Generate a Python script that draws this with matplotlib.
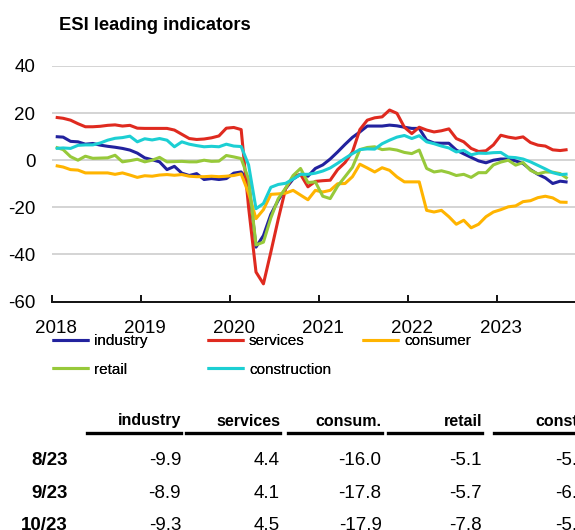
import numpy as np
import matplotlib
matplotlib.use("Agg")
import matplotlib.pyplot as plt
from matplotlib.lines import Line2D

plt.rcParams['font.family'] = ['Liberation Sans', 'DejaVu Sans']
plt.rcParams['axes.unicode_minus'] = False

# ---------------- data (monthly, Jan 2018 - Oct 2023) ----------------
years = ['2018', '2019', '2020', '2021', '2022', '2023']

industry = [10, 9.8, 8, 7.8, 6.8, 7.1, 6.4, 5.9, 5.5, 5, 4.3, 3,
            1, 0.2, -0.7, -4, -2.6, -5.5, -6.5, -5.7, -8.2, -7.8, -8.2, -7.8,
            -5.5, -5, -9, -36.9, -32, -23, -17, -12, -8, -6, -6.8, -3.5,
            -2, 0.5, 3.5, 6.7, 9.7, 12, 14.5, 14.5, 14.5, 14.9, 14.6, 14,
            13.5, 13.5, 8.5, 7.3, 7.2, 7.2, 4.3, 2.7, 1.2, -0.3, -1.1, 0,
            0.5, 0.5, -0.3, -1.4, -4, -6, -7.5, -9.9, -8.9, -9.3]

services = [18.2, 17.8, 17, 15.5, 14.2, 14.2, 14.4, 14.8, 15, 14.5, 14.8, 13.6,
            13.5, 13.5, 13.5, 13.5, 12.8, 11, 9.2, 8.8, 9, 9.5, 10.3, 13.6,
            13.9, 13, -20, -47.5, -52.5, -39, -25, -12, -7, -6, -11.3, -9,
            -8.7, -8.5, -4, -1, 3.5, 13, 17, 18, 18.4, 21.3, 19.9, 14,
            11.3, 14, 12.8, 12, 12.5, 13.3, 9.2, 7.8, 5, 3.7, 4, 6.5,
            10.6, 9.8, 9.3, 9.9, 7.5, 6.4, 6.0, 4.4, 4.1, 4.5]

consumer = [-2.3, -2.9, -4, -4.2, -5.4, -5.4, -5.4, -5.4, -6, -5.4, -6.3, -7.3,
            -6.6, -6.8, -6.3, -6.1, -6.4, -6.1, -6.8, -7, -7, -6.8, -7, -6.8,
            -6.5, -5.8, -14, -24.8, -21, -14.5, -14.3, -14, -12.8, -14.8, -16.8, -12.8,
            -13.5, -12.8, -10, -9.9, -7, -1.7, -3.3, -5, -3.2, -4.3, -7.1, -9.2,
            -9.2, -9.2, -21.3, -22, -21.3, -24, -27.2, -25.5, -28.7, -27.2, -24, -22,
            -21, -19.8, -19.4, -17.6, -17.2, -15.9, -15.3, -16.0, -17.8, -17.9]

retail = [5.5, 4.5, 1.5, 0, 1.7, 0.8, 0.9, 1, 2.1, -0.7, -0.2, 0.4,
          -0.7, 0, 1.2, -0.7, -0.6, -0.5, -0.7, -0.7, 0, -0.5, -0.4, 2,
          1.4, 0.7, -8, -36, -34.8, -24.5, -16.3, -11.8, -6.5, -3.5, -9.5, -9.2,
          -15.3, -16.3, -11, -7, -3, 4.5, 5.4, 5.7, 4.5, 4.8, 4.3, 3.3,
          2.8, 4.3, -3.5, -5, -4.5, -5.3, -6.5, -6, -7.3, -5.3, -5.3, -2,
          -0.8, 0, -2.1, -1, -4.3, -5.8, -5, -5.1, -5.7, -7.8]

construction = [5, 5.2, 5, 6.3, 6.5, 6.5, 7.3, 8.5, 9.3, 9.6, 10.2, 7.8,
                9.1, 8.6, 9.2, 8.5, 5.7, 7.8, 6.8, 6.2, 5.7, 5.9, 5.7, 6.8,
                6, 5.8, -2, -20.6, -18.4, -11.5, -10.3, -9.8, -8, -6, -6, -5.5,
                -4.6, -3.3, -1.3, 0.8, 2.8, 4.5, 4.8, 4.7, 7, 8.5, 9.8, 10.5,
                9.2, 10.4, 7.8, 7, 6, 5.2, 3.5, 4.2, 2.3, 3, 2.9, 3.2,
                3.3, 1.3, 1.1, 0.5, -0.7, -2.2, -3.7, -5.3, -6.1, -5.9]

series_names = ['industry', 'services', 'consumer', 'retail', 'construction']
series_colors = ['#22229E', '#DF2A1F', '#FFB400', '#97C93A', '#1CCFD3']

table_cols = ['industry', 'services', 'consum.', 'retail', 'constr.']
table_rows = ['8/23', '9/23', '10/23']

# ---------------- figure ----------------
W, H = 575, 530
fig = plt.figure(figsize=(W / 100, H / 100), dpi=100)

def fx(px):
    return px / W

def fy(py):
    return 1 - py / H

ax_left, ax_right, ax_top, ax_bottom = 52, 575, 66, 301.5
ax = fig.add_axes([fx(ax_left), fy(ax_bottom), fx(ax_right - ax_left),
                   (ax_bottom - ax_top) / H])

all_series = [industry, services, consumer, retail, construction]
x = np.arange(len(industry))
handles = []
for vals, name, col in zip(all_series, series_names, series_colors):
    ln, = ax.plot(x, vals, color=col, lw=2.2, label=name,
                  solid_joinstyle='round', solid_capstyle='butt')
    handles.append(ln)

ax.set_xlim(-0.5, 70.0)
ax.set_ylim(-60, 40)
ax.set_yticks([-60, -40, -20, 0, 20, 40])
ax.grid(axis='y', color='#D4D4D4', lw=1.4)
ax.set_axisbelow(True)
for s in ['top', 'right', 'left']:
    ax.spines[s].set_visible(False)
ax.spines['bottom'].set_color('#111111')
ax.spines['bottom'].set_linewidth(1.4)
ax.tick_params(axis='y', length=0, pad=12, labelsize=13.5)

# year boundary ticks (major) and year labels (minor)
ax.set_xticks(np.arange(-0.5, 70, 12))
ax.set_xticklabels([])
ax.set_xticks(np.arange(0, 70, 12), minor=True)
ax.set_xticklabels(years, minor=True)
ax.tick_params(axis='x', which='major', direction='in', length=5, width=1.4,
               color='#111111')
ax.tick_params(axis='x', which='minor', length=0, pad=13.5, labelsize=13.5)

# title
fig.text(fx(59), fy(25), 'ESI leading indicators', fontsize=13.2,
         fontweight='bold', ha='left', va='center')

# legends: three columns
leg_cols = [[0, 3], [1, 4], [2]]
leg_x = [52, 207, 362]
for cols, lx in zip(leg_cols, leg_x):
    lg = fig.legend([handles[i] for i in cols], [series_names[i] for i in cols],
                    loc='upper left', bbox_to_anchor=(fx(lx), fy(334)),
                    frameon=False, fontsize=11, borderpad=0, borderaxespad=0,
                    handlelength=2.45, handletextpad=0.3, labelspacing=0.95)
    fig.add_artist(lg)

# table
col_right = [181, 280, 381.5, 482, 588]
header_base = 425.5
row_base = [465, 498.3, 529.5]
for j, name in enumerate(table_cols):
    fig.text(fx(col_right[j]), fy(header_base), name, fontsize=11.5,
             fontweight='bold', ha='right', va='baseline')
    fig.add_artist(Line2D([fx(col_right[j] - 94), fx(col_right[j])],
                          [fy(432.7), fy(432.7)], color='black', lw=2.4,
                          transform=fig.transFigure))
for r, lab in enumerate(table_rows):
    fig.text(fx(68), fy(row_base[r]), lab, fontsize=13.5, fontweight='bold',
             ha='right', va='baseline')
    for j, vals in enumerate(all_series):
        v = vals[len(vals) - 3 + r]
        fig.text(fx(col_right[j]), fy(row_base[r]), f'{v:.1f}', fontsize=13.5,
                 ha='right', va='baseline')

fig.savefig('out.png', dpi=100)
